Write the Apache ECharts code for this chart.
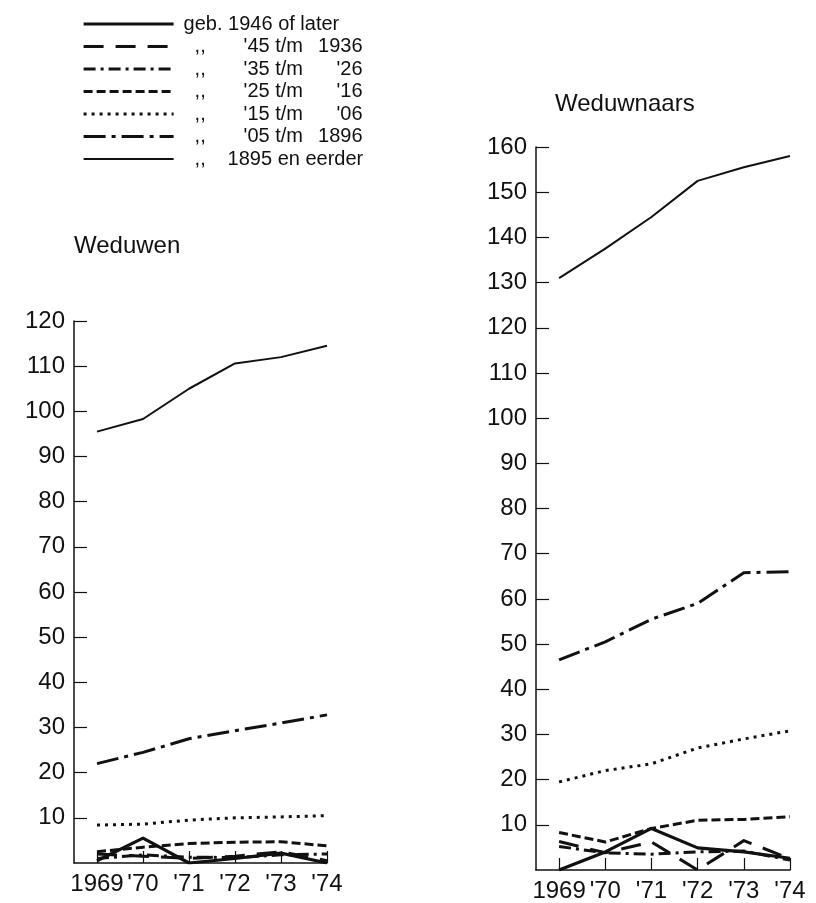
<!DOCTYPE html>
<html>
<head>
<meta charset="utf-8">
<script src="https://cdn.jsdelivr.net/npm/echarts@6/dist/echarts.min.js"></script>
<style>
html,body{margin:0;padding:0;background:#fff;}
#chart{width:816px;height:903px;}
</style>
</head>
<body>
<div id="chart"></div>
<script>
// ---- data ----
const years = [1969, 1970, 1971, 1972, 1973, 1974];
const yearLabels = ['1969', "'70", "'71", "'72", "'73", "'74"];
const seriesNames = ['geb. 1946 of later', "'45 t/m 1936", "'35 t/m '26", "'25 t/m '16", "'15 t/m '06", "'05 t/m 1896", '1895 en eerder'];
const titleLeft = 'Weduwen';
const titleRight = 'Weduwnaars';
const yTicksLeft = [10, 20, 30, 40, 50, 60, 70, 80, 90, 100, 110, 120];
const yTicksRight = [10, 20, 30, 40, 50, 60, 70, 80, 90, 100, 110, 120, 130, 140, 150, 160];

// Weduwen
const wGeb1946 = [0.5, 5.5, 0, 1, 2.2, 0];
const w45_36 = [2, 1.5, 1, 1.5, 2.5, 0.5];
const w35_26 = [1, 1.8, 1.3, 1.2, 1.8, 2];
const w25_16 = [2.5, 3.5, 4.3, 4.6, 4.7, 3.8];
const w15_06 = [8.4, 8.6, 9.5, 10, 10.2, 10.5];
const w05_96 = [22, 24.5, 27.5, 29.3, 31, 32.8];
const w1895 = [95.5, 98.3, 105, 110.6, 112, 114.5];

// Weduwnaars
const mGeb1946 = [0, 4, 9.2, 4.9, 4, 2.6];
const m45_36 = [6.3, 3.8, 6.2, 0, 6.5, 2.5];
const m35_26 = [5.2, 3.8, 3.5, 4, 4.2, 2.2];
const m25_16 = [8.3, 6.2, 9.2, 11, 11.2, 11.8];
const m15_06 = [19.5, 22, 23.5, 27, 29, 30.8];
const m05_96 = [46.5, 50.5, 55.5, 59, 65.8, 66];
const m1895 = [131, 137.5, 144.5, 152.5, 155.5, 158];

// ---- styles ----
const FONT = '"Liberation Sans", Arial, Helvetica, sans-serif';
const INK = '#111';
const lineStyles = [
  { width: 3.2, type: 'solid' },
  { width: 3, type: [20, 12] },
  { width: 3, type: [12, 5, 3, 5] },
  { width: 3, type: [9, 4] },
  { width: 3, type: [3, 5] },
  { width: 3, type: [22, 6, 4, 6] },
  { width: 2, type: 'solid' }
];
const leftData = [wGeb1946, w45_36, w35_26, w25_16, w15_06, w05_96, w1895];
const rightData = [mGeb1946, m45_36, m35_26, m25_16, m15_06, m05_96, m1895];

function pairs(arr) { return years.map((y, i) => [y, arr[i]]); }

function xAxis(gridIndex) {
  return {
    type: 'value', gridIndex: gridIndex, min: 1968.5, max: 1974,
    splitLine: { show: false },
    axisLine: { show: true, onZero: false, lineStyle: { color: INK, width: 1.5 } },
    axisTick: { show: true, inside: true, length: 12, customValues: years, lineStyle: { color: INK, width: 1.2 } },
    axisLabel: {
      customValues: years, margin: 9, color: INK, fontSize: 24, fontFamily: FONT,
      formatter: v => yearLabels[years.indexOf(Math.round(v))] || ''
    }
  };
}
function yAxis(gridIndex, max, ticks) {
  return {
    type: 'value', gridIndex: gridIndex, min: 0, max: max, interval: 10,
    splitLine: { show: false },
    axisLine: { show: true, lineStyle: { color: INK, width: 1.5 } },
    axisTick: { show: true, inside: true, length: 13, customValues: ticks, lineStyle: { color: INK, width: 1.2 } },
    axisLabel: { customValues: ticks, margin: 9, color: INK, fontSize: 24, fontFamily: FONT }
  };
}

const series = [];
[leftData, rightData].forEach((set, g) => {
  set.forEach((arr, i) => {
    series.push({
      name: seriesNames[i], type: 'line', xAxisIndex: g, yAxisIndex: g,
      data: pairs(arr), symbol: 'none', smooth: false, silent: true,
      lineStyle: { color: INK, width: lineStyles[i].width, type: lineStyles[i].type, cap: 'butt', join: 'round' },
      itemStyle: { color: INK },
      z: 2
    });
  });
});

function legendFormatter(name) {
  const i = seriesNames.indexOf(name);
  if (i === 0) return '{s0| }{g|' + name + '}';
  if (i === 6) return '{s| }{c2|,,}{g|' + name + '}';
  const parts = name.split(' t/m ');
  return '{s| }{c|,,}{a|' + parts[0] + ' t/m}{b|' + parts[1] + '}';
}

const legendText = { fontSize: 20, fontFamily: FONT, color: INK, lineHeight: 20 };
const option = {
  backgroundColor: '#fff',
  animation: false,
  title: [
    { text: titleLeft, left: 74, top: 234, padding: 0, textStyle: { fontSize: 24, fontWeight: 'normal', fontFamily: FONT, color: INK } },
    { text: titleRight, left: 555, top: 92, padding: 0, textStyle: { fontSize: 24, fontWeight: 'normal', fontFamily: FONT, color: INK } }
  ],
  legend: {
    data: seriesNames, orient: 'vertical', left: 82, top: 14, padding: 0,
    itemWidth: 90, itemHeight: 14, itemGap: 2.5, selectedMode: false,
    lineStyle: { width: 'inherit' },
    itemStyle: { color: 'rgba(0,0,0,0)', borderWidth: 0, borderColor: 'rgba(0,0,0,0)' },
    formatter: legendFormatter,
    textStyle: {
      fontSize: 20, fontFamily: FONT, color: INK,
      rich: {
        s0: Object.assign({ width: 5 }, legendText),
        s: Object.assign({ width: 16 }, legendText),
        c: Object.assign({ width: 49 }, legendText),
        c2: Object.assign({ width: 33 }, legendText),
        a: Object.assign({ width: 73 }, legendText),
        b: Object.assign({ width: 46, align: 'right' }, legendText),
        g: Object.assign({}, legendText)
      }
    }
  },
  grid: [
    { left: 74, top: 321, width: 253, height: 542 },
    { left: 536, top: 147, width: 254, height: 723 }
  ],
  xAxis: [xAxis(0), xAxis(1)],
  yAxis: [yAxis(0, 120, yTicksLeft), yAxis(1, 160, yTicksRight)],
  series: series
};

const chart = echarts.init(document.getElementById('chart'), null, { renderer: 'canvas' });
chart.setOption(option);
</script>
</body>
</html>
